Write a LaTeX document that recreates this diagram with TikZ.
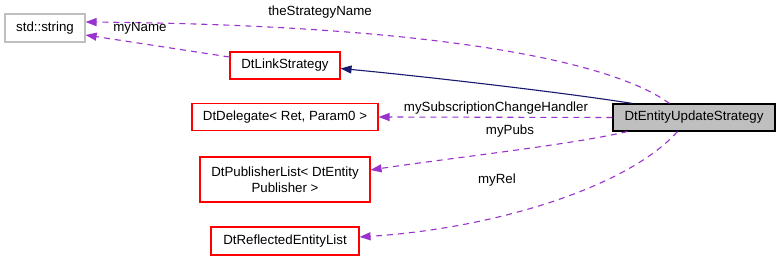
\documentclass[tikz,border=0pt]{standalone}
\usepackage{fontspec}
\setmainfont{Liberation Sans}
\usetikzlibrary{arrows.meta}

\definecolor{edgepurple}{HTML}{9A32CD}
\definecolor{edgenavy}{HTML}{191970}
\definecolor{boxgray}{HTML}{BFBFBF}
\definecolor{boxred}{HTML}{FF0000}

\tikzset{
  classbox/.style={draw=boxred, line width=1.1pt, fill=white, inner sep=2pt,
    font=\fontsize{13.3}{16}\selectfont, align=center},
  extbox/.style={classbox, draw=boxgray},
  mainbox/.style={classbox, draw=black, fill=boxgray},
  usesedge/.style={draw=edgepurple, line width=1.1pt, dash pattern=on 6pt off 5pt,
    -{Triangle[length=11pt,width=8pt]}},
  inheritedge/.style={draw=edgenavy, line width=1.1pt,
    -{Triangle[length=11pt,width=8pt]}},
  edgelabel/.style={font=\fontsize{13.3}{16}\selectfont, inner sep=0pt}
}

\begin{document}
\begin{tikzpicture}[x=1pt,y=-1pt]
  \useasboundingbox (0,0) rectangle (781,261);

  % classes
  \node[extbox, minimum width=80pt, minimum height=28pt] (str) at (45,28) {std::string};
  \node[classbox, minimum width=110pt, minimum height=27pt] (link) at (285,65.5) {DtLinkStrategy};
  \node[classbox, minimum width=186pt, minimum height=27pt] (deleg) at (285,117) {DtDelegate\textless{} Ret, Param0 \textgreater};
  \node[classbox, minimum width=170pt, minimum height=45pt] (pub) at (285,179.5) {DtPublisherList\textless{} DtEntity\\Publisher \textgreater};
  \node[classbox, minimum width=148pt, minimum height=28pt] (refl) at (285,241) {DtReflectedEntityList};
  \node[mainbox, minimum width=162pt, minimum height=27pt] (main) at (694,117.5) {DtEntityUpdateStrategy};

  % relations
  \draw[usesedge] ([xshift=57pt]main.north west) .. controls (610,60) and (430,25) .. ([yshift=6pt]str.east);
  \node[edgelabel] (lbltsn) at (320,12) {theStrategyName};
  \draw[usesedge] ([yshift=8.5pt]link.west) -- ([yshift=-7pt]str.east);
  \node[edgelabel] (lblname) at (140,28) {myName};
  \draw[inheritedge] ([xshift=20pt]main.north west) .. controls (560,92) and (420,76) .. ([yshift=-3pt]link.east);
  \draw[usesedge] (main.west) -- (deleg.east);
  \node[edgelabel] (lblsub) at (496,108) {mySubscriptionChangeHandler};
  \draw[usesedge] ([xshift=15pt]main.south west) .. controls (570,145) and (450,158) .. ([yshift=9.5pt]pub.east);
  \node[edgelabel] (lblpubs) at (510,131) {myPubs};
  \draw[usesedge] ([xshift=65pt]main.south west) .. controls (630,185) and (500,228) .. ([yshift=4pt]refl.east);
  \node[edgelabel] (lblrel) at (497,180) {myRel};
\end{tikzpicture}
\end{document}
